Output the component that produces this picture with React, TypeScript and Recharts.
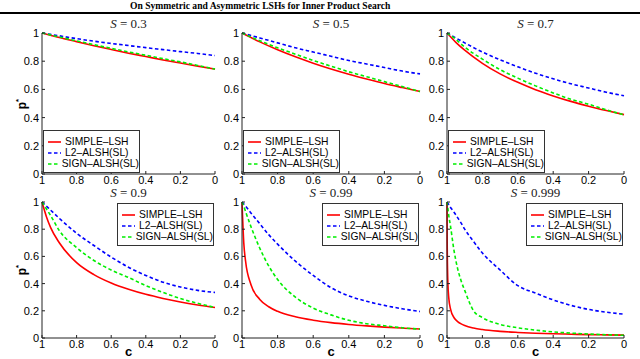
import React from 'react';
import { LineChart, Line, XAxis, YAxis, Legend } from 'recharts';

// ---------- data ----------
const xTicks = [1, 0.8, 0.6, 0.4, 0.2, 0];
const yTicks = [0, 0.2, 0.4, 0.6, 0.8, 1];
const seriesNames = ['SIMPLE–LSH', 'L2–ALSH(SL)', 'SIGN–ALSH(SL)'];
const seriesColors = ['#ff0000', '#0000ff', '#00ee00'];
const panelTitles = ['0.3', '0.5', '0.7', '0.9', '0.99', '0.999'];

const cS03 = [1, 0.9, 0.8, 0.7, 0.6, 0.5, 0.4, 0.3, 0.2, 0.1, 0];
const simpleS03 = [1, 0.968, 0.939, 0.91, 0.883, 0.857, 0.833, 0.809, 0.787, 0.765, 0.744];
const l2S03 = [1, 0.98, 0.96, 0.942, 0.926, 0.911, 0.896, 0.882, 0.868, 0.855, 0.84];
const signS03 = [1, 0.972, 0.944, 0.917, 0.891, 0.866, 0.842, 0.818, 0.795, 0.77, 0.745];

const cS05 = [1, 0.9, 0.8, 0.7, 0.6, 0.5, 0.4, 0.3, 0.2, 0.1, 0];
const simpleS05 = [1, 0.937, 0.881, 0.831, 0.786, 0.745, 0.708, 0.674, 0.642, 0.613, 0.585];
const l2S05 = [1, 0.965, 0.93, 0.895, 0.865, 0.835, 0.805, 0.78, 0.755, 0.73, 0.71];
const signS05 = [1, 0.945, 0.895, 0.85, 0.805, 0.765, 0.725, 0.69, 0.655, 0.62, 0.585];

const cS07 = [1, 0.95, 0.9, 0.8, 0.7, 0.6, 0.5, 0.4, 0.3, 0.2, 0.1, 0];
const simpleS07 = [1, 0.934, 0.878, 0.785, 0.71, 0.65, 0.598, 0.554, 0.515, 0.481, 0.45, 0.421];
const l2S07 = [1, 0.965, 0.93, 0.865, 0.81, 0.76, 0.715, 0.675, 0.64, 0.61, 0.58, 0.555];
const signS07 = [1, 0.955, 0.9, 0.815, 0.74, 0.68, 0.625, 0.575, 0.53, 0.495, 0.455, 0.42];

const cS09 = [1, 0.975, 0.95, 0.9, 0.8, 0.7, 0.6, 0.5, 0.4, 0.3, 0.2, 0.1, 0];
const simpleS09 = [1, 0.894, 0.812, 0.7, 0.554, 0.466, 0.404, 0.358, 0.321, 0.291, 0.265, 0.243, 0.224];
const l2S09 = [1, 0.97, 0.94, 0.88, 0.77, 0.68, 0.595, 0.52, 0.46, 0.41, 0.375, 0.35, 0.335];
const signS09 = [1, 0.95, 0.9, 0.79, 0.665, 0.57, 0.5, 0.445, 0.385, 0.335, 0.29, 0.255, 0.225];

const cS099 = [1, 0.99, 0.98, 0.95, 0.9, 0.85, 0.8, 0.7, 0.6, 0.5, 0.4, 0.3, 0.2, 0.1, 0];
const simpleS099 = [1, 0.699, 0.566, 0.394, 0.284, 0.23, 0.196, 0.156, 0.131, 0.113, 0.0996, 0.089, 0.08, 0.073, 0.0665];
const l2S099 = [1, 0.985, 0.97, 0.92, 0.84, 0.76, 0.69, 0.565, 0.46, 0.37, 0.31, 0.27, 0.24, 0.215, 0.195];
const signS099 = [1, 0.97, 0.93, 0.82, 0.66, 0.53, 0.43, 0.3, 0.22, 0.17, 0.13, 0.105, 0.09, 0.075, 0.065];

const cS0999 = [1, 0.999, 0.995, 0.99, 0.98, 0.96, 0.95, 0.94, 0.92, 0.9, 0.85, 0.8, 0.7, 0.6, 0.5, 0.4, 0.3, 0.2, 0.1, 0];
const simpleS0999 = [1, 0.704, 0.403, 0.295, 0.212, 0.149, 0.133, 0.121, 0.104, 0.092, 0.0733, 0.062, 0.049, 0.041, 0.035, 0.031, 0.028, 0.025, 0.023, 0.021];
const l2S0999 = [1, 0.998, 0.99, 0.98, 0.96, 0.925, 0.905, 0.885, 0.845, 0.8, 0.71, 0.625, 0.5, 0.385, 0.33, 0.28, 0.24, 0.21, 0.19, 0.175];
const signS0999 = [1, 0.99, 0.95, 0.9, 0.82, 0.64, 0.57, 0.51, 0.42, 0.35, 0.2, 0.15, 0.1, 0.075, 0.058, 0.045, 0.036, 0.029, 0.024, 0.02];

// ---------- layout ----------
const colX: [number, number][] = [[42, 215], [242, 420], [447, 624]];
const rowY: [number, number][] = [[33, 174], [202, 338]];
const ML = 40, MT = 12, MR = 10, MB = 20;
const SANS = '"Liberation Sans", Arial, sans-serif';
const SERIF = '"Liberation Serif", "Times New Roman", serif';

type PanelProps = {
  s: string; c: number[]; simple: number[]; l2: number[]; sign: number[];
  col: number; row: number;
};

const LegendBox = (props: any) => {
  const payload = [...(props.payload || [])].sort(
    (a: any, b: any) => seriesNames.indexOf(a.value) - seriesNames.indexOf(b.value)
  );
  return (
    <div style={{
      width: 97, height: 43, boxSizing: 'border-box', border: '1px solid #333', background: '#fff',
      padding: '5px 0 0 3px', fontFamily: SANS, fontSize: 10.3, lineHeight: '11px', color: '#000',
    }}>
      {payload.map((p: any, i: number) => (
        <div key={i} style={{ display: 'flex', alignItems: 'center', height: 11, whiteSpace: 'nowrap' }}>
          <svg width={16} height={8} style={{ marginRight: 2 }}>
            <line x1={1} y1={4} x2={14} y2={4} stroke={p.color}
              strokeWidth={1.6} strokeDasharray={p.payload && p.payload.strokeDasharray} />
          </svg>
          <span>{p.value}</span>
        </div>
      ))}
    </div>
  );
};

const Panel = ({ s, c, simple, l2, sign, col, row }: PanelProps) => {
  const [x0, x1] = colX[col];
  const [y0, y1] = rowY[row];
  const data = c.map((cv, i) => ({ c: cv, simple: simple[i], l2: l2[i], sign: sign[i] }));
  const W = x1 - x0 + ML + MR;
  const H = y1 - y0 + MT + MB;
  const legendStyle: any = row === 0
    ? { left: ML + 1, bottom: MB + 1 }
    : { right: MR + 1, top: MT + 1 };
  const axisStroke = '#222';
  return (
    <>
      <div style={{
        position: 'absolute', left: x0, width: x1 - x0, top: y0 - 16, height: 13, textAlign: 'center',
        fontFamily: SERIF, fontSize: 13, lineHeight: '13px', color: '#222', whiteSpace: 'nowrap',
      }}>
        <i>S</i> = {s}
      </div>
      <div style={{ position: 'absolute', left: x0 - ML, top: y0 - MT }}>
        <LineChart width={W} height={H} data={data} margin={{ top: MT, right: MR, left: 0, bottom: 0 }}>
          <XAxis xAxisId="b" dataKey="c" type="number" domain={[0, 1]} reversed ticks={xTicks}
            interval={0} height={MB} tickSize={-3} tickMargin={5} stroke={axisStroke}
            tick={{ fill: '#000', fontSize: 11, fontFamily: SANS }} />
          <XAxis xAxisId="t" orientation="top" dataKey="c" type="number" domain={[0, 1]} reversed
            ticks={xTicks} interval={0} height={0} tickSize={-3} tick={false} stroke={axisStroke} />
          <YAxis yAxisId="l" type="number" domain={[0, 1]} ticks={yTicks} interval={0} width={ML}
            tickSize={-3} tickMargin={6} stroke={axisStroke}
            tick={{ fill: '#000', fontSize: 11, fontFamily: SANS }} />
          <YAxis yAxisId="r" orientation="right" type="number" domain={[0, 1]} ticks={yTicks}
            interval={0} width={0} tickSize={-3} tick={false} stroke={axisStroke} />
          <Legend layout="vertical" align="center" verticalAlign="middle"
            content={LegendBox} wrapperStyle={legendStyle} />
          <Line xAxisId="b" yAxisId="l" type="monotone" dataKey="simple" name={seriesNames[0]}
            stroke={seriesColors[0]} strokeWidth={1.6} dot={false} isAnimationActive={false} />
          <Line xAxisId="b" yAxisId="l" type="monotone" dataKey="l2" name={seriesNames[1]}
            stroke={seriesColors[1]} strokeWidth={1.6} strokeDasharray="3.5 2.5" dot={false} isAnimationActive={false} />
          <Line xAxisId="b" yAxisId="l" type="monotone" dataKey="sign" name={seriesNames[2]}
            stroke={seriesColors[2]} strokeWidth={1.6} strokeDasharray="3.5 2.5" dot={false} isAnimationActive={false} />
        </LineChart>
      </div>
      {col === 0 && (
        <div style={{
          position: 'absolute', left: 19 - 20, top: (y0 + y1) / 2 - 8, width: 40, height: 16,
          textAlign: 'center', transform: 'rotate(-90deg)', fontFamily: SANS, fontWeight: 'bold',
          fontSize: 12, lineHeight: '16px', color: '#000',
        }}>
          p<sup style={{ fontSize: 8 }}>*</sup>
        </div>
      )}
      {row === 1 && (
        <div style={{
          position: 'absolute', left: (x0 + x1) / 2 - 10, width: 20, top: 346, height: 12, textAlign: 'center',
          fontFamily: SANS, fontWeight: 'bold', fontSize: 13, lineHeight: '12px', color: '#000',
        }}>
          c
        </div>
      )}
    </>
  );
};

export default function App() {
  return (
    <div style={{ position: 'absolute', left: 0, top: 0, width: 640, height: 359, background: '#fff', overflow: 'hidden' }}>
      <div style={{
        position: 'absolute', left: 130, top: 0, whiteSpace: 'nowrap', fontFamily: SERIF,
        fontWeight: 'bold', fontSize: 9.6, lineHeight: '12px', color: '#000',
      }}>
        On Symmetric and Asymmetric LSHs for Inner Product Search
      </div>
      <div style={{ position: 'absolute', left: 0, top: 12, width: 640, height: 2, background: '#000' }} />
      <Panel s={panelTitles[0]} c={cS03} simple={simpleS03} l2={l2S03} sign={signS03} col={0} row={0} />
      <Panel s={panelTitles[1]} c={cS05} simple={simpleS05} l2={l2S05} sign={signS05} col={1} row={0} />
      <Panel s={panelTitles[2]} c={cS07} simple={simpleS07} l2={l2S07} sign={signS07} col={2} row={0} />
      <Panel s={panelTitles[3]} c={cS09} simple={simpleS09} l2={l2S09} sign={signS09} col={0} row={1} />
      <Panel s={panelTitles[4]} c={cS099} simple={simpleS099} l2={l2S099} sign={signS099} col={1} row={1} />
      <Panel s={panelTitles[5]} c={cS0999} simple={simpleS0999} l2={l2S0999} sign={signS0999} col={2} row={1} />
    </div>
  );
}
